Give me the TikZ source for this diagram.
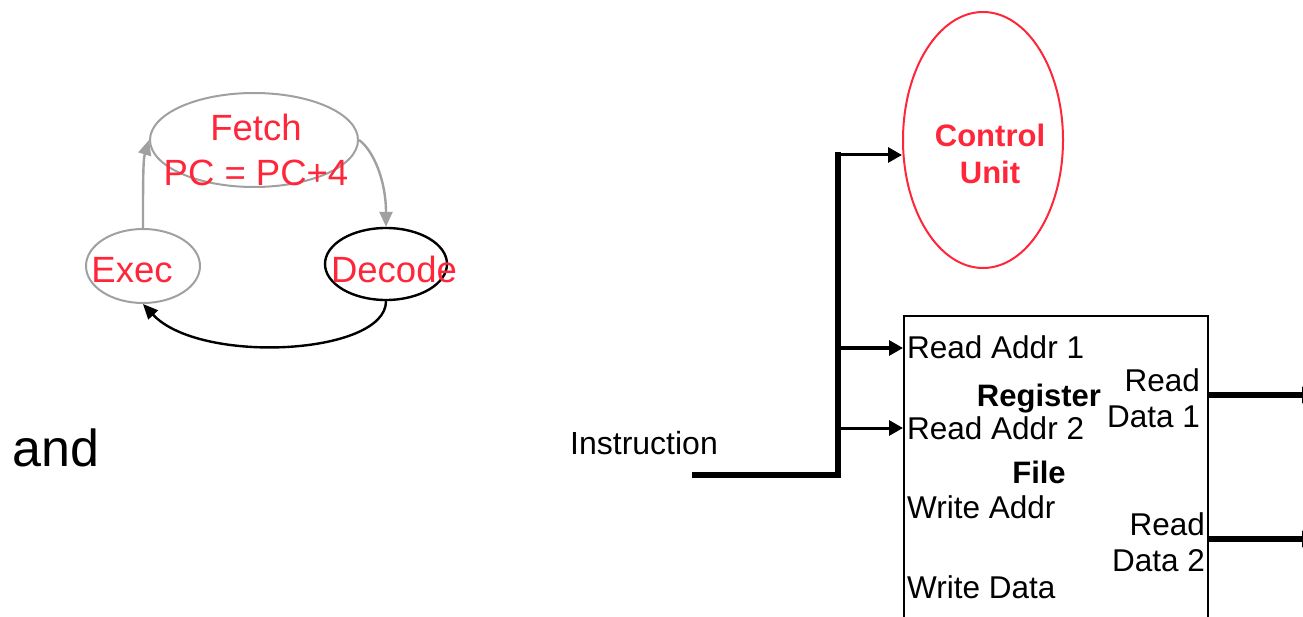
\documentclass[tikz,border=0pt]{standalone}
\usepackage{fontspec}
\setmainfont{Liberation Sans}
\usetikzlibrary{shapes.geometric,arrows.meta}
\definecolor{stred}{RGB}{255,38,58}
\definecolor{stgray}{RGB}{160,160,160}
\tikzset{
  state/.style={draw, ellipse, inner sep=0pt, line width=2pt},
  lbl/.style={inner sep=0pt, font=\fontsize{31.5}{36}\selectfont},
  redlbl/.style={inner sep=0pt, text=stred, font=\fontsize{36.5}{45}\selectfont, align=center},
  bus/.style={line width=6pt},
  wire/.style={line width=3pt, -{Triangle[length=14pt,width=15pt]}},
  loop/.style={line width=2.4pt, -{Triangle[length=15pt,width=13pt]}},
}
\begin{document}
\begin{tikzpicture}[x=1pt,y=-1pt]
\useasboundingbox (0,0) rectangle (1303,617);

% instruction cycle
\node[state, draw=stgray, minimum width=208pt, minimum height=94pt] (fetch) at (254,140) {};
\node[state, draw=stgray, minimum width=114pt, minimum height=74pt] (exec) at (143,266) {};
\node[state, draw=black, line width=2.4pt, minimum width=122pt, minimum height=72pt] (decode) at (386,264) {};
\node[redlbl] (fetchtxt) at (256,150) {Fetch\\PC = PC+4};
\node[redlbl, anchor=base] (exectxt) at (132,283) {Exec};
\node[redlbl, anchor=base] (decodetxt) at (394,283) {Decode};

\draw[loop, stgray] (exec.north) .. controls (143,185) and (143,160) .. (fetch.west);
\draw[loop, stgray] (fetch.east) .. controls (373,150) and (386,180) .. (decode.north);
\draw[loop, black] (decode.south) .. controls (386,355) and (200,365) .. (exec.south);

\node[inner sep=0pt, anchor=base west, font=\fontsize{52}{60}\selectfont] (andtxt) at (12,466) {and};

% datapath fragment
\node[lbl, anchor=base west, font=\fontsize{32}{36}\selectfont] (instr) at (570,454) {Instruction};

\node[ellipse, draw=stred, line width=2pt, minimum width=160pt, minimum height=256pt, inner sep=0pt] (cu) at (983,140) {};
\node[lbl, text=stred, font=\bfseries\fontsize{31}{37}\selectfont, align=center] (cutxt) at (990,154) {Control\\Unit};

\node[draw, line width=2pt, rectangle, anchor=north west, minimum width=304pt, minimum height=340pt, inner sep=0pt] (rf) at (903,315) {};

\coordinate (bin) at (695,475);
\coordinate (bj) at (838,475);
\coordinate (j1) at (838,155);
\coordinate (j2) at (838,348);
\coordinate (j3) at (838,428);
\draw[bus, line cap=rect] (bin) -- (bj) -- (j1);
\draw[wire] (j1) -- (j1 -| cu.west);
\draw[wire] (j2) -- (j2 -| rf.west);
\draw[wire] (j3) -- (j3 -| rf.west);

\node[lbl, anchor=base west] (ra1) at (907,359) {Read Addr 1};
\node[lbl, anchor=base west] (ra2) at (907,439) {Read Addr 2};
\node[lbl, anchor=base west] (wa) at (907,518) {Write Addr};
\node[lbl, anchor=base west] (wd) at (907,598) {Write Data};
\node[lbl, anchor=base, font=\bfseries\fontsize{31}{36}\selectfont] (regtxt) at (1039,406) {Register};
\node[lbl, anchor=base, font=\bfseries\fontsize{31}{36}\selectfont] (filetxt) at (1039,483) {File};
\node[lbl, anchor=base east] (rd1a) at (1200,391) {Read};
\node[lbl, anchor=base east] (rd1b) at (1200,427) {Data 1};
\node[lbl, anchor=base east] (rd2a) at (1205,535) {Read};
\node[lbl, anchor=base east] (rd2b) at (1205,571) {Data 2};

\coordinate (o1) at (1316,395);
\coordinate (o2) at (1316,539);
\draw[bus, -{Triangle[length=14pt,width=16pt]}] (o1 -| rf.east) -- (o1);
\draw[bus, -{Triangle[length=14pt,width=16pt]}] (o2 -| rf.east) -- (o2);
\end{tikzpicture}
\end{document}
